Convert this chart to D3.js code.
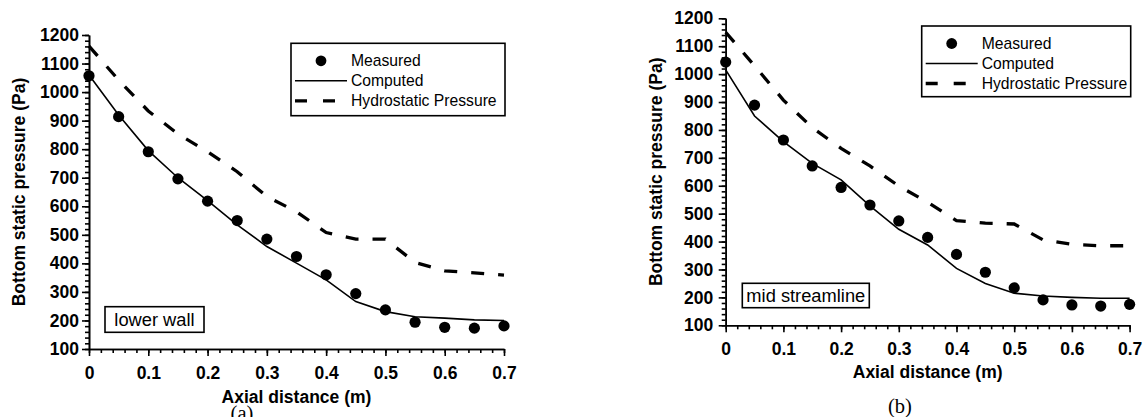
<!DOCTYPE html>
<html>
<head>
<meta charset="utf-8">
<script src="https://cdn.jsdelivr.net/npm/d3@7"></script>
<style>
  body { margin: 0; background: #fff; }
  svg { display: block; }
  .axis path, .axis line { stroke: #000; stroke-width: 1.6px; }
  .axis text { font-family: Arial, "Liberation Sans", sans-serif; font-weight: bold; font-size: 17.5px; fill: #000; }
</style>
</head>
<body>
<svg id="chart" width="1144" height="417"></svg>
<script>
// axial distance (m) of each station
var distance = [0, 0.05, 0.1, 0.15, 0.2, 0.25, 0.3, 0.35, 0.4, 0.45, 0.5, 0.55, 0.6, 0.65, 0.7];

// (a) lower wall
var measuredA = [1057, 914, 791, 696, 618, 550, 485, 424, 360, 294, 237, 194, 176, 173, 181];
var computedA = [1060, 920, 795, 700, 620, 535, 459, 401, 342, 266, 231, 213, 208, 202, 200];
var hydroA = [1161, 1042, 934, 853, 791, 721, 634, 581, 508, 485, 485, 403, 374, 367, 359];

// (b) mid streamline
var measuredB = [1043, 889, 764, 671, 594, 531, 474, 415, 354, 290, 234, 191, 173, 169, 175];
var computedB = [1015, 850, 758, 680, 621, 528, 444, 388, 304, 250, 215, 205, 200, 197, 197];
var hydroB = [1150, 1030, 907, 808, 734, 671, 599, 541, 475, 466, 463, 406, 390, 385, 385];

var xTicks = [0, 0.1, 0.2, 0.3, 0.4, 0.5, 0.6, 0.7];
var yTicks = [100, 200, 300, 400, 500, 600, 700, 800, 900, 1000, 1100, 1200];
var legendNames = ["Measured", "Computed", "Hydrostatic Pressure"];

var svg = d3.select("#chart");
var SANS = 'Arial, "Liberation Sans", sans-serif';

function drawPanel(p) {
  var g = svg.append("g");
  var x = d3.scaleLinear().domain([0, 0.7]).range([p.left, p.right]);
  var y = d3.scaleLinear().domain([100, 1200]).range([p.bottom, p.top]);

  // minor ticks first, then the labelled majors
  var xMinor = d3.range(0, 0.7001, 0.02).map(function(v) { return +v.toFixed(2); });
  var yMinor = d3.range(100, 1201, 20);

  g.append("g").attr("class", "axis")
    .attr("transform", "translate(0," + p.bottom + ")")
    .call(d3.axisBottom(x).tickValues(xMinor).tickSize(4).tickSizeOuter(0).tickFormat(""));
  g.append("g").attr("class", "axis")
    .attr("transform", "translate(0," + p.bottom + ")")
    .call(d3.axisBottom(x).tickValues(xTicks).tickSize(7).tickSizeOuter(0)
      .tickPadding(p.xPad).tickFormat(function(d) { return String(d); }));

  g.append("g").attr("class", "axis")
    .attr("transform", "translate(" + p.left + ",0)")
    .call(d3.axisLeft(y).tickValues(yMinor).tickSize(4).tickSizeOuter(0).tickFormat(""));
  g.append("g").attr("class", "axis")
    .attr("transform", "translate(" + p.left + ",0)")
    .call(d3.axisLeft(y).tickValues(yTicks).tickSize(7).tickSizeOuter(0)
      .tickPadding(p.yPad).tickFormat(d3.format("d")));

  // axis titles
  g.append("text")
    .attr("x", (p.left + p.right) / 2).attr("y", p.xTitleY)
    .attr("text-anchor", "middle")
    .style("font-family", SANS).style("font-weight", "bold").style("font-size", "17.5px")
    .text("Axial distance (m)");
  g.append("text")
    .attr("transform", "translate(" + p.yTitleX + "," + (p.top + p.bottom) / 2 + ") rotate(-90)")
    .attr("text-anchor", "middle")
    .style("font-family", SANS).style("font-weight", "bold").style("font-size", "17.5px")
    .text("Bottom static pressure (Pa)");

  var line = d3.line()
    .x(function(d, i) { return x(distance[i]); })
    .y(function(d) { return y(d); });

  g.append("path").datum(p.hydro)
    .attr("d", line)
    .attr("fill", "none").attr("stroke", "#000")
    .attr("stroke-width", 3.3).attr("stroke-dasharray", "13,14");

  g.append("path").datum(p.computed)
    .attr("d", line)
    .attr("fill", "none").attr("stroke", "#000").attr("stroke-width", 1.6);

  g.selectAll("circle.pt").data(p.measured).enter()
    .append("circle").attr("class", "pt")
    .attr("cx", function(d, i) { return x(distance[i]); })
    .attr("cy", function(d) { return y(d); })
    .attr("r", 5.6).attr("fill", "#000");

  // legend
  var L = p.legend;
  g.append("rect")
    .attr("x", L.x).attr("y", L.y).attr("width", L.w).attr("height", L.h)
    .attr("fill", "#fff").attr("stroke", "#000").attr("stroke-width", 1.6);
  var rows = [L.y + 17.5, L.y + 37.5, L.y + 57.5];
  g.append("circle").attr("cx", L.x + 30).attr("cy", rows[0]).attr("r", 5.4).attr("fill", "#000");
  g.append("line")
    .attr("x1", L.x + 4).attr("x2", L.x + 56).attr("y1", rows[1]).attr("y2", rows[1])
    .attr("stroke", "#000").attr("stroke-width", 1.6);
  g.append("line")
    .attr("x1", L.x + 4).attr("x2", L.x + 47).attr("y1", rows[2]).attr("y2", rows[2])
    .attr("stroke", "#000").attr("stroke-width", 3.3).attr("stroke-dasharray", "12,16");
  g.selectAll("text.leg").data(legendNames).enter()
    .append("text").attr("class", "leg")
    .attr("x", L.x + 60)
    .attr("y", function(d, i) { return rows[i] + 5.5; })
    .style("font-family", SANS).style("font-size", "15.7px")
    .text(function(d) { return d; });

  // case label box
  var B = p.box;
  g.append("rect")
    .attr("x", B.x).attr("y", B.y).attr("width", B.w).attr("height", B.h)
    .attr("fill", "#fff").attr("stroke", "#000").attr("stroke-width", 1.6);
  g.append("text")
    .attr("x", B.x + B.w / 2).attr("y", B.y + B.h / 2 + 6.3)
    .attr("text-anchor", "middle")
    .style("font-family", SANS).style("font-size", "18.3px")
    .text(B.text);

  // panel tag
  g.append("text")
    .attr("x", p.tag.x).attr("y", p.tag.y)
    .attr("text-anchor", "middle")
    .style("font-family", '"Times New Roman", "Liberation Serif", serif').style("font-size", "20.5px")
    .text(p.tag.text);
}

drawPanel({
  left: 89, right: 504, top: 35, bottom: 349,
  xPad: 11, yPad: 3, xTitleY: 403, yTitleX: 24.5,
  measured: measuredA, computed: computedA, hydro: hydroA,
  legend: { x: 291, y: 43.3, w: 214, h: 72.4 },
  box: { x: 105, y: 306.7, w: 99, h: 25.6, text: "lower wall" },
  tag: { x: 242, y: 420, text: "(a)" }
});

drawPanel({
  left: 725.7, right: 1129.6, top: 18.3, bottom: 325.3,
  xPad: 10, yPad: 5.5, xTitleY: 378, yTitleX: 662,
  measured: measuredB, computed: computedB, hydro: hydroB,
  legend: { x: 921.7, y: 26, w: 209, h: 70.7 },
  box: { x: 742.3, y: 283.3, w: 127, h: 24.4, text: "mid streamline" },
  tag: { x: 900, y: 412.5, text: "(b)" }
});
</script>
</body>
</html>
